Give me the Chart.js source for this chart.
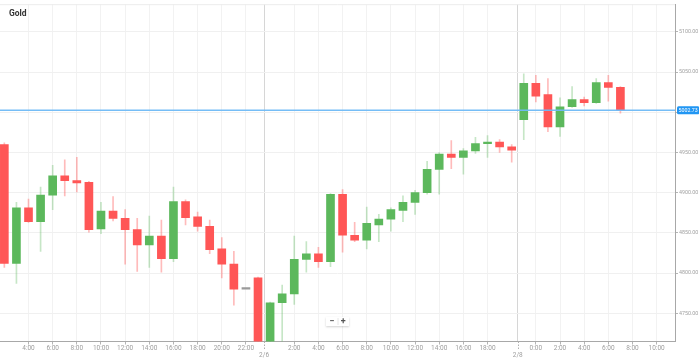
<!DOCTYPE html>
<html><head><meta charset="utf-8">
<script src="https://cdn.jsdelivr.net/npm/chart.js@4/dist/chart.umd.min.js"></script>
<style>html,body{margin:0;padding:0;background:#fff;overflow:hidden}canvas{display:block}</style>
</head><body>
<canvas id="c" width="699" height="359"></canvas>
<script>
const chartTitle = 'Gold';
const opens  = [4960,4812,4881,4864,4897,4921,4915,4913,4855,4877,4868,4854,4835,4846,4818,4889,4870,4858,4830,4811,4780,4794,4705,4763,4774,4817,4824,4814,4898,4847,4841,4860,4867,4878,4888,4900,4929,4948,4944,4952,4961,4963,4957,4991,5036,5022,4982,5007,5016,5012,5037,5031];
const highs  = [4962,4888,4892,4907,4934,4941,4944,4914,4888,4895,4879,4868,4871,4866,4907,4891,4876,4866,4844,4827,4780,4795,4764,4785,4846,4839,4832,4899,4904,4863,4882,4873,4881,4896,4903,4939,4950,4965,4955,4969,4971,4966,4960,5048,5046,5042,5018,5032,5019,5042,5046,5032];
const lows   = [4807,4787,4863,4827,4879,4896,4901,4851,4849,4865,4811,4802,4807,4801,4814,4860,4852,4824,4794,4760,4780,4695,4700,4710,4761,4801,4807,4808,4826,4839,4830,4839,4852,4864,4873,4898,4898,4930,4923,4949,4944,4950,4938,4966,5013,4976,4970,5006,5008,5011,5014,4999];
const closes = [4812,4881,4864,4897,4921,4915,4912,4854,4877,4868,4854,4835,4846,4818,4889,4869,4858,4829,4811,4780,4780,4705,4763,4774,4817,4824,4814,4898,4847,4841,4862,4867,4879,4888,4900,4929,4948,4944,4952,4961,4963,4957,4953,5036,5020,4982,5007,5016,5012,5037,5031,5002.73];
const xTickSlots  = [2,4,6,8,10,12,14,16,18,20,24,26,28,30,32,34,36,38,40,44,46,48,50,52,54];
const xTickLabels = ['4:00','6:00','8:00','10:00','12:00','14:00','16:00','18:00','20:00','22:00','2:00','4:00','6:00','8:00','10:00','12:00','14:00','16:00','18:00','0:00','2:00','4:00','6:00','8:00','10:00'];
const dateSlots  = [21.5, 42.5];
const dateLabels = ['2/6', '2/8'];
const yTickValues = [4750,4800,4850,4900,4950,5000,5050,5100];
const currentPrice = 5002.73;

const UP = '#5cb85c', DOWN = '#ff5656', FLAT = '#9a9a9a';
const UP_W = 'rgba(92,184,92,0.35)', DOWN_W = 'rgba(255,86,86,0.4)';
const FONT = 'Roboto';

function dir(i){ return closes[i] > opens[i] ? 1 : (closes[i] < opens[i] ? -1 : 0); }

const overlay = {
  id: 'overlay',
  afterDatasetsDraw(chart){
    const {ctx, chartArea:a, scales:{y}} = chart;
    const py = y.getPixelForValue(currentPrice);
    ctx.save();
    ctx.strokeStyle = 'rgba(110,185,245,0.95)';
    ctx.lineWidth = 1.5;
    ctx.beginPath(); ctx.moveTo(a.left, py); ctx.lineTo(a.right, py); ctx.stroke();
    ctx.restore();
  },
  afterDraw(chart){
    const {ctx, chartArea:a, scales:{x, y}} = chart;
    ctx.save();
    ctx.strokeStyle = '#ececec'; ctx.lineWidth = 1;
    ctx.beginPath(); ctx.moveTo(a.left, a.top+0.5); ctx.lineTo(a.right, a.top+0.5); ctx.stroke();
    ctx.strokeStyle = '#b0b0b0'; ctx.setLineDash([1.5,1.5]);
    dateSlots.forEach(v => {
      const px = Math.round(x.getPixelForValue(v)) + 0.5;
      ctx.beginPath(); ctx.moveTo(px, a.bottom); ctx.lineTo(px, a.bottom + 9); ctx.stroke();
    });
    ctx.setLineDash([]);
    const py = y.getPixelForValue(currentPrice);
    ctx.font = '5.3px ' + FONT;
    const txt = currentPrice.toFixed(2);
    const tw = ctx.measureText(txt).width;
    const bx = a.right + 2, bw = tw + 3, bh = 8;
    ctx.fillStyle = '#2196f3';
    ctx.beginPath(); ctx.roundRect(bx, py - bh/2, bw, bh, 1.5); ctx.fill();
    ctx.fillStyle = '#fff'; ctx.textBaseline = 'middle'; ctx.textAlign = 'left';
    ctx.fillText(txt, bx + 1.5, py + 0.5);
    ctx.fillStyle = '#333'; ctx.font = 'bold 8.5px ' + FONT; ctx.textBaseline = 'alphabetic';
    ctx.fillText(chartTitle, 9, 15.5);
    const cx = (a.left + a.right) / 2, zy = a.bottom - 24.5;
    ctx.shadowColor = 'rgba(0,0,0,0.18)'; ctx.shadowBlur = 2; ctx.shadowOffsetY = 0.5;
    ctx.fillStyle = '#fff';
    ctx.fillRect(cx - 11.5, zy, 23, 9);
    ctx.shadowColor = 'transparent';
    ctx.strokeStyle = '#e6e6e6';
    ctx.beginPath(); ctx.moveTo(cx + 0.5, zy + 1); ctx.lineTo(cx + 0.5, zy + 8); ctx.stroke();
    ctx.fillStyle = '#555'; ctx.font = 'bold 9px ' + FONT; ctx.textAlign = 'center'; ctx.textBaseline = 'middle';
    ctx.fillText('\u2212', cx - 5.8, zy + 4.5);
    ctx.fillText('+', cx + 5.8, zy + 4.5);
    ctx.restore();
  }
};

new Chart(document.getElementById('c'), {
  type: 'bar',
  data: {
    datasets: [
      {
        label: 'wick',
        data: highs.map((h, i) => ({x: i, y: [lows[i], h]})),
        backgroundColor: c => { const d = dir(c.dataIndex); return d > 0 ? UP_W : (d < 0 ? DOWN_W : 'rgba(0,0,0,0)'); },
        barThickness: 1, grouped: false, order: 2
      },
      {
        label: 'body',
        data: opens.map((o, i) => ({x: i, y: [o, closes[i]]})),
        backgroundColor: c => { const d = dir(c.dataIndex); return d > 0 ? UP : (d < 0 ? DOWN : FLAT); },
        barThickness: 8, minBarLength: 1.5, grouped: false, order: 1
      }
    ]
  },
  options: {
    responsive: false, animation: false,
    layout: {padding: {top: 2, left: 0, right: 0, bottom: 0}},
    plugins: {legend: {display: false}, tooltip: {enabled: false}, title: {display: false}},
    scales: {
      x: {
        type: 'linear', min: -0.36, max: 55.52, offset: false,
        afterBuildTicks: s => { s.ticks = [...xTickSlots, ...dateSlots].sort((p, q) => p - q).map(v => ({value: v})); },
        afterFit: s => { s.height = 17.5; },
        grid: {
          offset: false,
          color: c => (c.tick && dateSlots.includes(c.tick.value)) ? '#d6d6d6' : '#f2f2f2',
          tickColor: c => (c.tick && dateSlots.includes(c.tick.value)) ? 'rgba(0,0,0,0)' : '#b5b5b5',
          tickLength: 3, drawTicks: true
        },
        border: {color: '#a8a8a8'},
        ticks: {
          autoSkip: false, maxRotation: 0, minRotation: 0, padding: 0,
          font: {size: 6.5, family: FONT, lineHeight: 1.1}, color: '#9e9e9e',
          callback: v => {
            const si = dateSlots.indexOf(v);
            if (si >= 0) return ['', dateLabels[si]];
            const ti = xTickSlots.indexOf(v);
            return ti >= 0 ? xTickLabels[ti] : '';
          }
        }
      },
      y: {
        position: 'right', min: 4714.8, max: 5134.6, beginAtZero: false,
        afterBuildTicks: s => { s.ticks = yTickValues.map(v => ({value: v})); },
        afterFit: s => { s.width = 24; },
        grid: {color: '#f0f0f0', tickColor: '#b5b5b5', tickLength: 3},
        border: {color: '#a8a8a8'},
        ticks: {
          padding: 1, font: {size: 5.3, family: FONT}, color: '#9e9e9e',
          callback: v => Number(v).toFixed(2)
        }
      }
    }
  },
  plugins: [overlay]
});
</script>
</body></html>
